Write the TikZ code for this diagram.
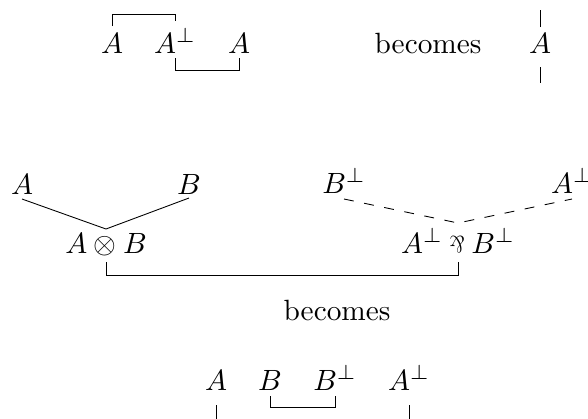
\documentclass[tikz,border=0pt]{standalone}
\usepackage{graphicx}
\usetikzlibrary{calc}
\newcommand{\myparr}{\mathbin{\scalebox{0.68}[0.8]{\rotatebox[origin=c]{180}{$\&$}}}}
\begin{document}
\begin{tikzpicture}[x=0.3413pt,y=-0.3413pt,
  lbl/.style={inner sep=0pt,anchor=base},
  link/.style={line width=0.3pt},
  dlink/.style={line width=0.3pt,dash pattern=on 3.4pt off 3.6pt}]
\useasboundingbox (0,0) rectangle (588,418);
% top row
\node[lbl] (t1) at (112,53) {$A$};
\node[lbl] (t2) at (175,53) {$A^\perp$};
\node[lbl] (t3) at (239,53) {$A$};
\node[lbl] (be1) at (428,53) {becomes};
\node[lbl] (t4) at (540,53) {$A$};
\draw[link] ($(t1.base)+(0,-27)$) -- ++(0,-12) -| ($(t2.base)+(0,-32)$);
\draw[link] ($(t2.base)+(0,5)$) -- ++(0,12) -| ($(t3.base)+(0,5)$);
\draw[link] ($(t4.base)+(0,-26)$) -- ++(0,-17);
\draw[link] ($(t4.base)+(0,14)$) -- ++(0,16);
% middle
\node[lbl] (m1) at (22,194) {$A$};
\node[lbl] (m2) at (189,194) {$B$};
\node[lbl] (m3) at (106,253) {$A\otimes B$};
\node[lbl] (r1) at (344,193) {$B^\perp$};
\node[lbl] (r2) at (572,193) {$A^\perp$};
\node[lbl] (m4) at (458,253) {$A^\perp \myparr B^\perp$};
\draw[link] ($(m1.base)+(0,5)$) -- ($(m3.base)+(0,-24)$) -- ($(m2.base)+(0,4)$);
\draw[dlink] ($(r1.base)+(0,6)$) -- ($(m4.base)+(0,-30)$) -- ($(r2.base)+(0,6)$);
\draw[link] ($(m3.base)+(0,9)$) -- ++(0,13) -| ($(m4.base)+(0,9)$);
\node[lbl] (be2) at (337,320) {becomes};
% bottom
\node[lbl] (b1) at (216,390) {$A$};
\node[lbl] (b2) at (270,390) {$B$};
\node[lbl] (b3) at (335,390) {$B^\perp$};
\node[lbl] (b4) at (409,390) {$A^\perp$};
\draw[link] ($(b2.base)+(0,6)$) -- ++(0,11) -| ($(b3.base)+(0,6)$);
\draw[link] ($(b1.base)+(0,15)$) -- ++(0,20);
\draw[link] ($(b4.base)+(0,15)$) -- ++(0,20);
\end{tikzpicture}
\end{document}
